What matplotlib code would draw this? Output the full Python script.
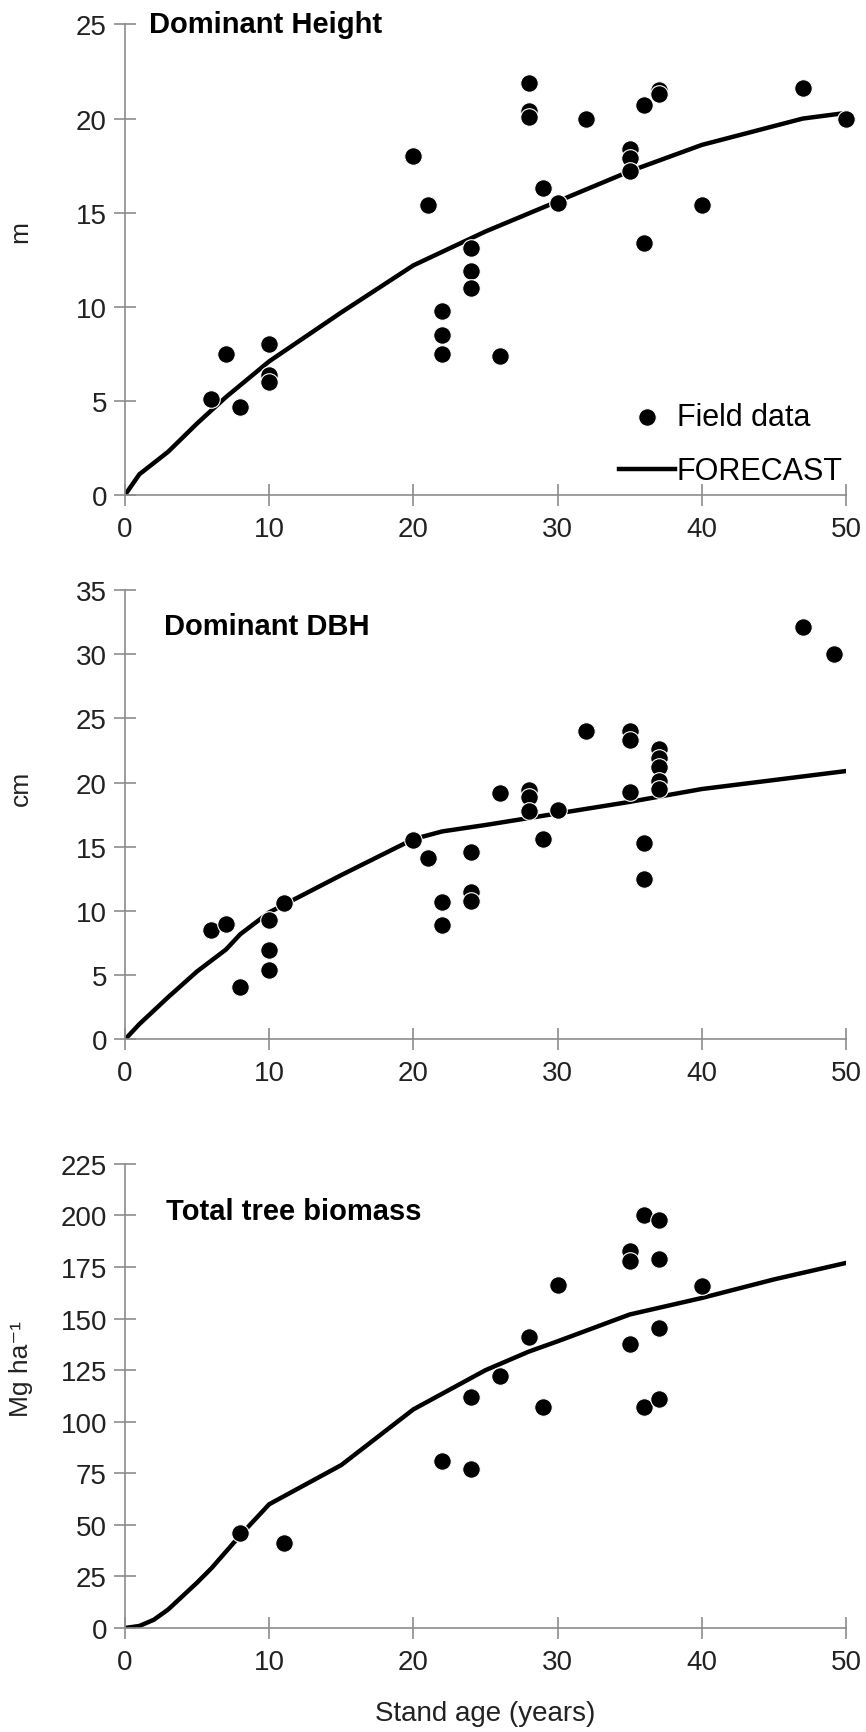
import matplotlib
matplotlib.use('Agg')
import matplotlib.pyplot as plt

# datos leidos del grafico
# --- altura dominante ---
edad_h = [6, 7, 8, 10, 10, 10, 20, 21, 22, 22, 22, 24, 24, 24, 26, 28, 28, 28,
          29, 30, 32, 35, 35, 35, 36, 36, 37, 37, 40, 47, 50]
altura = [5.1, 7.5, 4.7, 8.0, 6.4, 6.0, 18.0, 15.4, 9.8, 8.5, 7.5, 13.1, 11.9, 11.0,
          7.4, 21.9, 20.4, 20.1, 16.3, 15.5, 20.0, 18.4, 17.9, 17.2, 20.7, 13.4,
          21.5, 21.3, 15.4, 21.6, 20.0]
edad_fh = [0, 1, 2, 3, 5, 7, 10, 15, 20, 25, 30, 35, 40, 45, 47, 50]
forecast_h = [0, 1.1, 1.7, 2.3, 3.8, 5.2, 7.1, 9.7, 12.2, 14.0, 15.6, 17.2, 18.6, 19.6, 20.0, 20.3]

# --- DAP dominante ---
edad_d = [6, 7, 8, 10, 10, 10, 11, 20, 21, 22, 22, 24, 24, 24, 26, 28, 28, 28, 29, 30,
          32, 35, 35, 35, 36, 36, 37, 37, 37, 37, 37, 47, 49.2]
dap = [8.5, 9.0, 4.1, 9.3, 7.0, 5.4, 10.6, 15.5, 14.1, 10.7, 8.9, 14.6, 11.5, 10.8,
       19.2, 19.4, 18.9, 17.8, 15.6, 17.9, 24.0, 24.0, 23.3, 19.3, 15.3, 12.5,
       22.6, 21.9, 21.2, 20.1, 19.5, 32.1, 30.0]
edad_fd = [0, 1, 3, 5, 7, 8, 10, 15, 20, 22, 25, 30, 35, 40, 45, 50]
forecast_d = [0, 1.2, 3.3, 5.3, 7.0, 8.2, 9.9, 12.8, 15.6, 16.2, 16.7, 17.6, 18.5, 19.5, 20.2, 20.9]

# --- biomasa total ---
edad_b = [8, 11, 22, 24, 24, 26, 28, 29, 30, 35, 35, 35, 36, 36, 37, 37, 37, 37, 40]
biomasa = [46, 41, 81, 112, 77, 122, 141, 107, 166.5, 183, 178, 137.6, 200, 107,
           198, 178.7, 145.3, 111, 165.7]
edad_fb = [0, 1, 2, 3, 5, 6, 8, 10, 15, 20, 25, 28, 30, 35, 40, 45, 50]
forecast_b = [0, 1, 4, 9, 22, 29, 45, 60, 79, 106, 125, 134, 139, 152, 160, 169, 177]

plt.rcParams['font.family'] = ['Liberation Sans', 'DejaVu Sans']

fig = plt.figure(figsize=(8.66, 17.33), dpi=100)
ax1 = fig.add_axes([0.1443, 0.7138, 0.8326, 0.2715])
ax2 = fig.add_axes([0.1443, 0.3996, 0.8326, 0.2594])
ax3 = fig.add_axes([0.1443, 0.0600, 0.8326, 0.2678])

paneles = [
    (ax1, edad_h, altura, edad_fh, forecast_h, 'Dominant Height', 'm', 25, 5, 0.034, 1.0),
    (ax2, edad_d, dap, edad_fd, forecast_d, 'Dominant DBH', 'cm', 35, 5, 0.054, 0.92),
    (ax3, edad_b, biomasa, edad_fb, forecast_b, 'Total tree biomass', 'Mg ha\u207b\u00b9',
     225, 25, 0.057, 0.898),
]

for ax, x, y, xf, yf, titulo, unidad, ymax, paso, tx, ty in paneles:
    ax.plot(xf, yf, color='black', lw=3.2, label='FORECAST', zorder=2)
    ax.scatter(x, y, s=160, color='black', edgecolors='white', linewidths=0.8,
               label='Field data', zorder=3, clip_on=False)
    ax.set_xlim(0, 50)
    ax.set_ylim(0, ymax)
    ax.set_xticks(range(0, 51, 10))
    ax.set_yticks(range(0, ymax + 1, paso))
    for s in ['top', 'right']:
        ax.spines[s].set_visible(False)
    for s in ['left', 'bottom']:
        ax.spines[s].set_color('#8c8c8c')
        ax.spines[s].set_linewidth(1.2)
    ax.tick_params(direction='inout', length=16, width=1.2, color='#8c8c8c',
                   labelsize=20, labelcolor='#222222')
    ax.tick_params(axis='x', pad=7)
    ax.tick_params(axis='y', pad=5)
    ax.set_ylabel(unidad, fontsize=19, color='#222222')
    ax.yaxis.set_label_coords(-0.128, 0.56)
    ax.text(tx, ty, titulo, transform=ax.transAxes, fontsize=21,
            fontweight='bold', va='center', ha='left')
    ax.patch.set_visible(False)

handles, labels = ax1.get_legend_handles_labels()
ax1.legend(handles[::-1], labels[::-1], loc='upper left', bbox_to_anchor=(0.685, 0.198),
           frameon=False, fontsize=22, handlelength=1.85, handletextpad=0.05,
           labelspacing=0.8, borderpad=0, borderaxespad=0)

ax3.set_xlabel('Stand age (years)', fontsize=20, color='#222222', labelpad=18)

fig.savefig('out.png', dpi=100)
